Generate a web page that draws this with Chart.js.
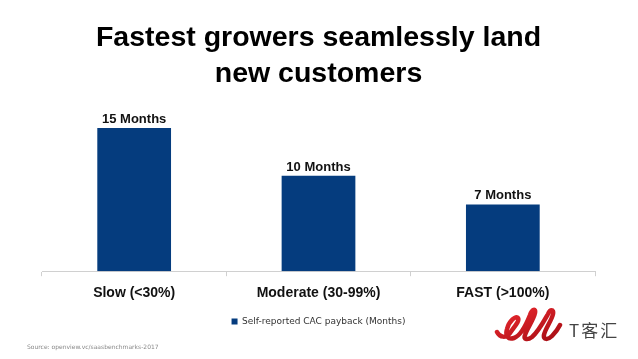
<!DOCTYPE html>
<html><head><meta charset="utf-8">
<script src="https://cdn.jsdelivr.net/npm/chart.js@4/dist/chart.umd.min.js"></script>
<style>
html,body{margin:0;padding:0;background:#fff;}
#wrap{position:relative;width:638px;height:359px;}
#src{position:absolute;left:27px;top:343px;font:6px "DejaVu Sans",sans-serif;color:#888;white-space:nowrap;}
#logo1{position:absolute;left:494px;top:305px;}
#logo2{position:absolute;left:569px;top:317px;font:17px "Noto Sans CJK SC",sans-serif;color:#444;letter-spacing:2px;}
</style></head><body>
<div id="wrap"><canvas id="c" width="638" height="359"></canvas>
<div id="src">Source: openview.vc/saasbenchmarks-2017</div>
<svg id="logo1" width="70" height="38" viewBox="0 0 70 38">
  <defs><linearGradient id="g" x1="0" y1="0" x2="1" y2="1">
    <stop offset="0" stop-color="#ee2a30"/><stop offset="1" stop-color="#a50d14"/></linearGradient></defs>
  <path d="M3,27 C6,33 12,33 16,28 C20,22 26,16 24,13 C22,10 15,16 13,24 C11,31 14,35 20,33 C26,31 32,20 36,10 C38,4 42,3 41,8 C40,14 33,24 31,30 C29,35 34,35 38,32 C44,27 50,16 54,9 C56,4 60,4 59,9 C58,15 51,24 50,30 C49,35 54,35 58,31 C61,28 64,24 66,20"
    fill="none" stroke="url(#g)" stroke-width="4.5" stroke-linecap="round" stroke-linejoin="round"/>
</svg>
<div id="logo2">T客汇</div>
</div>
<script>
const categories = ["Slow (<30%)", "Moderate (30-99%)", "FAST (>100%)"];
const payback = [15, 10, 7];
const valueLabels = ["15 Months", "10 Months", "7 Months"];
const seriesName = "Self-reported CAC payback (Months)";
const titleLines = ["Fastest growers seamlessly land", "new customers"];

const labelPlugin = {
  id: 'vlabels',
  afterDatasetsDraw(chart) {
    const ctx = chart.ctx;
    const meta = chart.getDatasetMeta(0);
    ctx.save();
    ctx.font = 'bold 13px "Liberation Sans", sans-serif';
    ctx.fillStyle = '#111';
    ctx.textAlign = 'center';
    ctx.textBaseline = 'alphabetic';
    meta.data.forEach((bar, i) => {
      ctx.fillText(valueLabels[i], bar.x, bar.y - 5);
    });
    ctx.restore();
  }
};

new Chart(document.getElementById('c'), {
  type: 'bar',
  data: {
    labels: categories,
    datasets: [{
      label: seriesName,
      data: payback,
      backgroundColor: '#053C7E',
      barPercentage: 0.4,
      categoryPercentage: 1.0
    }]
  },
  options: {
    responsive: false,
    animation: false,
    layout: { padding: { left: 42, right: 43, top: 0, bottom: 23 } },
    plugins: {
      title: {
        display: true,
        text: titleLines,
        font: { family: '"Liberation Sans", sans-serif', size: 28.5, weight: 'bold', lineHeight: 1.27 },
        color: '#000',
        padding: { top: 20, bottom: 18 }
      },
      legend: {
        position: 'bottom',
        labels: {
          boxWidth: 6, boxHeight: 6,
          font: { family: '"DejaVu Sans", sans-serif', size: 9 },
          color: '#333',
          padding: 6
        }
      },
      tooltip: { enabled: false }
    },
    scales: {
      x: {
        grid: { display: true, offset: true, drawOnChartArea: false, tickLength: 5, color: '#d0d0d0' },
        border: { display: true, color: '#d0d0d0' },
        ticks: { font: { family: '"Liberation Sans", sans-serif', size: 14, weight: 'bold' }, color: '#111', padding: 9 }
      },
      y: {
        display: false,
        min: 0,
        max: 16.85
      }
    }
  },
  plugins: [labelPlugin]
});
</script>
</body></html>
